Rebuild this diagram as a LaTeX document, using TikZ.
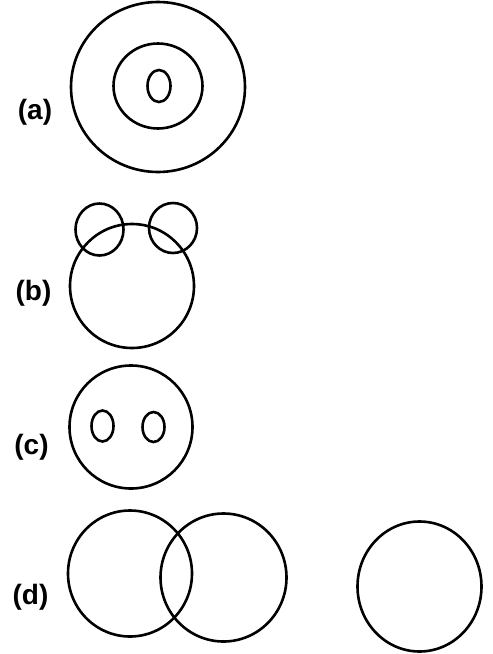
\documentclass[tikz,border=0pt]{standalone}
\usepackage{fontspec}
\setmainfont{Liberation Sans}
\usepackage{tikz}
\tikzset{
    ring/.style={draw=black, line width=2.6pt},
    panel/.style={font=\fontsize{28}{32}\selectfont\bfseries, inner sep=0pt}
}

\begin{document}
\begin{tikzpicture}[x=1pt, y=-1pt]
    \useasboundingbox (0,0) rectangle (493,654);
    % (a)
    \node (laba) [panel] at (35,112) {(a)};
    \draw [ring] (158,87) ellipse [x radius=87, y radius=85];
    \draw [ring] (158,86) ellipse [x radius=44.5, y radius=42.5];
    \draw [ring] (159,86) ellipse [x radius=11.5, y radius=16];
    % (b)
    \node (labb) [panel] at (33.5,293.5) {(b)};
    \draw [ring] (132,286) circle [radius=62];
    \draw [ring] (99.5,229.5) ellipse [x radius=24, y radius=26];
    \draw [ring] (173,228) ellipse [x radius=24, y radius=25];
    % (c)
    \node (labc) [panel] at (31.5,447.5) {(c)};
    \draw [ring] (131,427) circle [radius=61.5];
    \draw [ring] (102.5,426) ellipse [x radius=11, y radius=15.5];
    \draw [ring] (153.5,427) ellipse [x radius=11, y radius=15];
    % (d)
    \node (labd) [panel] at (30.5,597) {(d)};
    \draw [ring] (130,573.5) ellipse [x radius=62, y radius=63];
    \draw [ring] (223.5,577.5) ellipse [x radius=63, y radius=64];
    \draw [ring] (419.5,586.5) ellipse [x radius=62, y radius=65];
\end{tikzpicture}
\end{document}
